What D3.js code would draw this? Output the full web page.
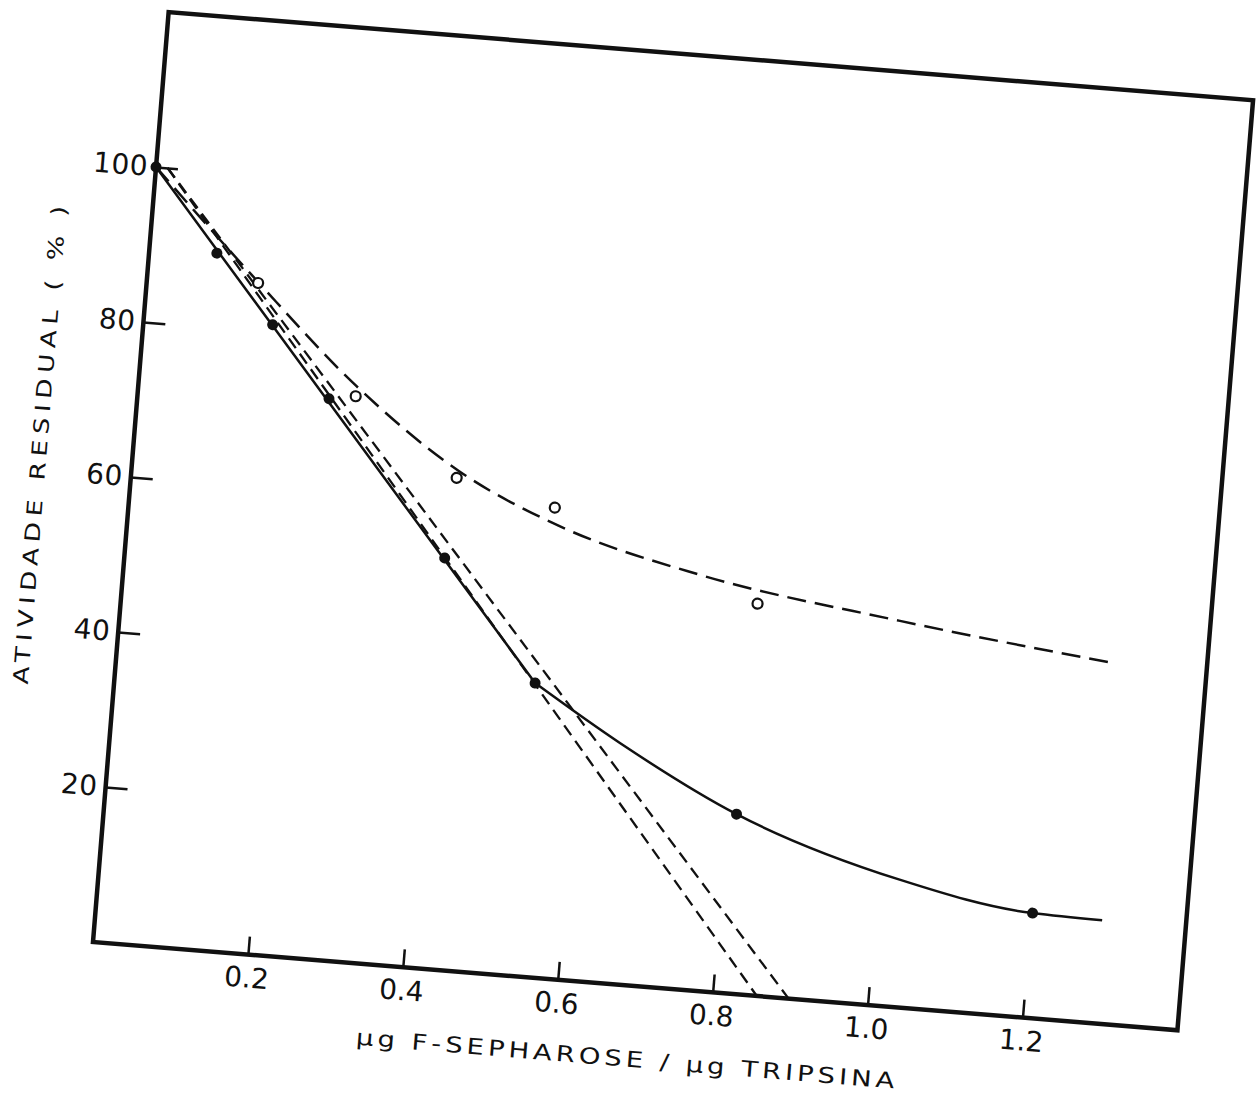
<!DOCTYPE html>
<html>
<head>
<meta charset="utf-8">
<script src="https://cdn.jsdelivr.net/npm/d3@7"></script>
<style>
  body { margin: 0; background: #fff; }
  svg { display: block; }
  .tick text { font-family: "DejaVu Sans", sans-serif; font-size: 28px; fill: #111; }
  .title { font-family: "DejaVu Sans", sans-serif; fill: #111; }
</style>
</head>
<body>
<svg width="1258" height="1101"></svg>
<script>
// tick values
var xTicks = [0.2, 0.4, 0.6, 0.8, 1.0, 1.2];
var yTicks = [20, 40, 60, 80, 100];

// filled circles (solid curve)
var solidX = [0, 0.087, 0.166, 0.246, 0.411, 0.54, 0.812, 1.202];
var solidY = [100, 89.6, 81.0, 72.1, 52.9, 37.8, 23.1, 13.5];

// open circles (dashed curve)
var openX = [0.143, 0.280, 0.418, 0.547, 0.817];
var openY = [86.2, 72.7, 63.3, 60.5, 50.3];

// drawn solid curve: straight part, then the bend
var solidLineX = [0, 0.54];
var solidLineY = [100, 37.8];
var solidBendX = [0.54, 0.655, 0.812, 1.028, 1.202, 1.292];
var solidBendY = [37.8, 31.0, 23.1, 16.4, 13.5, 13.3];

// drawn dashed curve through the open points
var dashCurveX = [0, 0.14, 0.28, 0.42, 0.56, 0.74, 1.0, 1.28];
var dashCurveY = [100, 86.6, 74.0, 64.2, 58.0, 53.4, 49.6, 46.4];

// extrapolated straight lines
var extrapA = [[0.015, 100], [0.857, 0]];
var extrapB = [[0.015, 100], [0.898, 0]];

var W = 1088, H = 933;
var svg = d3.select("svg");

// the scanned figure sits slightly rotated on the page
var g = svg.append("g")
    .attr("transform", "translate(93,942) rotate(4.65) translate(0," + (-H) + ")");

var x = d3.scaleLinear().domain([0, 1.4]).range([0, W]);
var y = d3.scaleLinear().domain([0, 120]).range([H, 0]);

var line = d3.line()
    .x(function(d) { return x(d[0]); })
    .y(function(d) { return y(d[1]); });

var smooth = d3.line()
    .x(function(d) { return x(d[0]); })
    .y(function(d) { return y(d[1]); })
    .curve(d3.curveMonotoneX);

function zip(a, b) { return a.map(function(v, i) { return [v, b[i]]; }); }

// frame
g.append("rect")
    .attr("x", 0).attr("y", 0)
    .attr("width", W).attr("height", H)
    .attr("fill", "none")
    .attr("stroke", "#111")
    .attr("stroke-width", 4.5);

// axes (ticks point inwards)
var xAxis = g.append("g")
    .attr("transform", "translate(0," + H + ")")
    .call(d3.axisBottom(x).tickValues(xTicks).tickFormat(d3.format(".1f"))
      .tickSize(-18).tickPadding(13));

var yAxis = g.append("g")
    .call(d3.axisLeft(y).tickValues(yTicks).tickSize(-22).tickPadding(8));

[xAxis, yAxis].forEach(function(a) {
  a.select(".domain").remove();
  a.selectAll(".tick line").attr("stroke", "#111").attr("stroke-width", 2.5);
});
yAxis.selectAll(".tick text").attr("letter-spacing", 0.5);

// extrapolation lines
[extrapA, extrapB].forEach(function(seg) {
  g.append("path")
      .attr("d", line(seg))
      .attr("fill", "none")
      .attr("stroke", "#111")
      .attr("stroke-width", 2.3)
      .attr("stroke-dasharray", "12,7");
});

// dashed curve
g.append("path")
    .attr("d", smooth(zip(dashCurveX, dashCurveY)))
    .attr("fill", "none")
    .attr("stroke", "#111")
    .attr("stroke-width", 2.5)
    .attr("stroke-dasharray", "19,9");

// solid curve
g.append("path")
    .attr("d", line(zip(solidLineX, solidLineY)) + smooth(zip(solidBendX, solidBendY)))
    .attr("fill", "none")
    .attr("stroke", "#111")
    .attr("stroke-width", 2.5)
    .attr("stroke-linejoin", "round");

g.selectAll(".open")
    .data(zip(openX, openY))
    .enter().append("circle")
    .attr("class", "open")
    .attr("cx", function(d) { return x(d[0]); })
    .attr("cy", function(d) { return y(d[1]); })
    .attr("r", 5)
    .attr("fill", "#fff")
    .attr("stroke", "#111")
    .attr("stroke-width", 2.2);

g.selectAll(".filled")
    .data(zip(solidX, solidY))
    .enter().append("circle")
    .attr("class", "filled")
    .attr("cx", function(d) { return x(d[0]); })
    .attr("cy", function(d) { return y(d[1]); })
    .attr("r", 5.5)
    .attr("fill", "#111");

// axis titles (the lettering is wide, so the glyphs are stretched)
g.append("text")
    .attr("class", "title")
    .attr("transform", "translate(540," + (H + 81) + ") scale(1.25,1)")
    .attr("text-anchor", "middle")
    .attr("font-size", 22)
    .attr("textLength", 540 / 1.25)
    .attr("lengthAdjust", "spacing")
    .text("µg  F-SEPHAROSE / µg  TRIPSINA");

g.append("text")
    .attr("class", "title")
    .attr("transform", "translate(-86," + (H - 491) + ") rotate(-90) scale(1.25,1)")
    .attr("text-anchor", "middle")
    .attr("font-size", 21)
    .attr("textLength", 480 / 1.25)
    .attr("lengthAdjust", "spacing")
    .text("ATIVIDADE  RESIDUAL  ( % )");
</script>
</body>
</html>
